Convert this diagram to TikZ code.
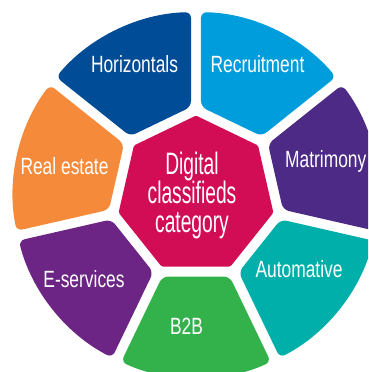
\documentclass[tikz,border=0pt]{standalone}
\usepackage{fontspec}
\setmainfont{Liberation Sans}[FakeStretch=0.74]
\newfontfamily\hubfont{Liberation Sans}[FakeStretch=0.62]
\usepackage[]{tikz}
\usetikzlibrary{positioning}
\definecolor{horizblue}{HTML}{004C97}
\definecolor{recruitblue}{HTML}{009DDC}
\definecolor{matripurple}{HTML}{4C2A85}
\definecolor{autoteal}{HTML}{00AFA9}
\definecolor{btobgreen}{HTML}{33B24B}
\definecolor{eservpurple}{HTML}{6C2585}
\definecolor{realestorange}{HTML}{F58A3A}
\definecolor{hubred}{HTML}{D20C55}
\begin{document}
\begin{tikzpicture}[x=1pt,y=1pt,
    segment/.style={rounded corners=6pt},
    seglabel/.style={text=white,inner sep=0pt,anchor=base,font=\fontsize{23.5}{25}\selectfont}]
            \useasboundingbox (-196,-177) rectangle (172,195);
            \clip (-196,-177) rectangle (172,195);
            \foreach \ang/\col in {64.29/recruitblue,115.71/horizblue,167.14/realestorange,218.57/eservpurple,270/btobgreen,321.43/autoteal,12.86/matripurple}
            \fill[\col,segment,rotate=\ang] (81.54,-33.72) -- (81.54,33.72) -- (24.15:183pt)
            arc[start angle=24.15,end angle=-24.15,radius=183pt] -- cycle;
            \fill[hubred,rounded corners=1.5pt] (90:79.4pt) \foreach \k in {1,...,6}{ -- (90+\k*51.4286:79.4pt)} -- cycle;
            \node[text=white,align=center,inner sep=0pt,font=\hubfont\fontsize{31}{29}\selectfont] (hubtext) at (-4,0) {Digital\\classifieds\\category};
            \node[seglabel] (horizontals) at (-61.5,122) {Horizontals};
            \node[seglabel] (recruitment) at (61.5,122) {Recruitment};
            \node[seglabel,anchor=base west] (matrimony) at (89,27) {Matrimony};
            \node[seglabel] (realestate) at (-131.5,20) {Real estate};
            \node[seglabel] (eservices) at (-112,-92) {E-services};
            \node[seglabel] (btwob) at (-9.5,-139) {B2B};
            \node[seglabel] (automative) at (103,-82) {Automative};
        \end{tikzpicture}
\end{document}
